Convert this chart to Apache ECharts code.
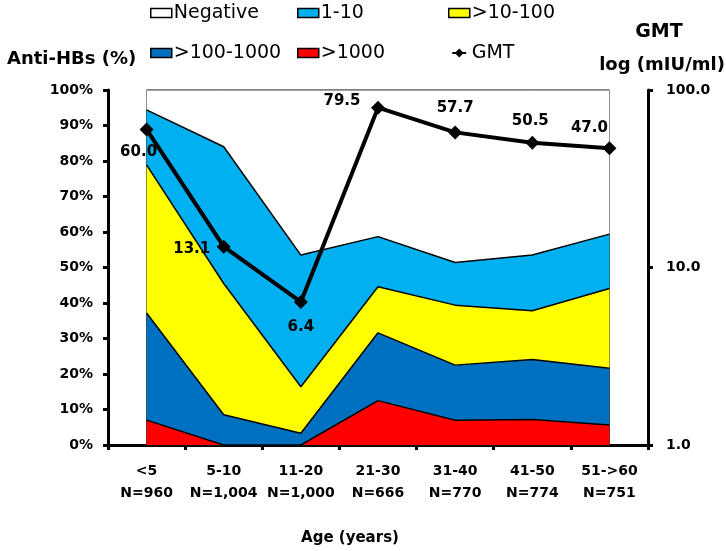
<!DOCTYPE html>
<html>
<head>
<meta charset="utf-8">
<script src="https://cdn.jsdelivr.net/npm/echarts@6/dist/echarts.min.js"></script>
<style>
  html, body { margin: 0; padding: 0; background: #fff; }
  #chart { width: 726px; height: 551px; }
</style>
</head>
<body>
<div id="chart"></div>
<script>
  // age groups + sample sizes
  var ageGroups = ['<5', '5-10', '11-20', '21-30', '31-40', '41-50', '51->60'];
  var sampleN = ['960', '1,004', '1,000', '666', '770', '774', '751'];

  // anti-HBs titer groups (% of subjects, stacked bottom -> top)
  var over1000 = [7.0, 0, 0, 12.5, 7.0, 7.2, 5.6];
  var from100to1000 = [30.2, 8.5, 3.3, 19.1, 15.5, 16.9, 16.0];
  var from10to100 = [41.7, 37.0, 13.1, 13.0, 16.9, 13.7, 22.5];
  var from1to10 = [15.5, 38.5, 37.1, 14.1, 12.0, 15.7, 15.3];
  var negative = [5.6, 16.0, 46.5, 41.3, 48.6, 46.5, 40.6];

  // geometric mean titer (mIU/ml)
  var gmt = [60.0, 13.1, 6.4, 79.5, 57.7, 50.5, 47.0];

  var leftTicks = [0, 100, 10];   // min, max, step
  var rightTicks = [1, 100];      // log axis range

  // where each GMT label sits relative to its point
  var gmtLabelOffsets = [[-8, 23], [-32, 2], [0, 25], [-36, -7], [0, -24], [-2, -22], [-20, -20]];

  var FONT = 'DejaVu Sans';
  // diamond on a short thick line, for the GMT legend entry
  var GMT_ICON = 'path://M0,5 L5,5 L10,0 L15,5 L20,5 L20,8 L15,8 L10,13 L5,8 L0,8 Z';
  var chart = echarts.init(document.getElementById('chart'));

  function areaSeries(name, data, fill) {
    return {
      name: name,
      type: 'line',
      stack: 'pct',
      data: data,
      symbol: 'none',
      itemStyle: { color: fill },
      lineStyle: { color: '#000', width: 1.5 },
      areaStyle: { color: fill, opacity: 1 },
      z: 2
    };
  }

  function legendItem(name, fill) {
    return { name: name, icon: 'rect', itemStyle: { color: fill, borderColor: '#000', borderWidth: 1.5 } };
  }

  var legendBase = {
    orient: 'vertical',
    top: 2,
    padding: 0,
    itemWidth: 21,
    itemHeight: 9,
    itemGap: 18,
    selectedMode: false,
    textStyle: { fontFamily: FONT, fontSize: 19, lineHeight: 22, color: '#000', padding: [0, 0, 0, -3] }
  };

  var negSeries = areaSeries('Negative', negative, '#ffffff');
  negSeries.lineStyle = { color: '#444', width: 1 };
  negSeries.markArea = {
    silent: true,
    itemStyle: { color: 'rgba(0,0,0,0)', borderColor: '#333', borderWidth: 1 },
    data: [[{ xAxis: ageGroups[0], yAxis: leftTicks[0] }, { xAxis: ageGroups[ageGroups.length - 1], yAxis: leftTicks[1] }]]
  };

  var option = {
    animation: false,
    backgroundColor: '#fff',
    grid: { left: 108, right: 78, top: 90, bottom: 106 },
    legend: [
      Object.assign({}, legendBase, { left: 150, data: [legendItem('Negative', '#ffffff'), legendItem('>100-1000', '#0070c0')] }),
      Object.assign({}, legendBase, { left: 297, data: [legendItem('1-10', '#00b0f0'), legendItem('>1000', '#ff0000')] }),
      Object.assign({}, legendBase, { left: 448, data: [legendItem('>10-100', '#ffff00'), { name: 'GMT', icon: GMT_ICON, itemStyle: { color: '#000', borderWidth: 0 } }] })
    ],
    graphic: [
      { type: 'text', x: 7, y: 59, style: { text: 'Anti-HBs (%)', font: 'bold 18px "' + FONT + '"', fill: '#000', verticalAlign: 'middle' } },
      { type: 'text', x: 659, y: 32, style: { text: 'GMT', font: 'bold 19px "' + FONT + '"', fill: '#000', align: 'center', verticalAlign: 'middle' } },
      { type: 'text', x: 662, y: 65, style: { text: 'log (mIU/ml)', font: 'bold 18px "' + FONT + '"', fill: '#000', align: 'center', verticalAlign: 'middle' } },
      { type: 'text', x: 350, y: 538, style: { text: 'Age (years)', font: 'bold 15px "' + FONT + '"', fill: '#000', align: 'center', verticalAlign: 'middle' } }
    ],
    xAxis: {
      type: 'category',
      data: ageGroups,
      boundaryGap: true,
      axisLine: { lineStyle: { color: '#000', width: 3 } },
      axisTick: { show: true, length: 5, lineStyle: { color: '#000', width: 3 } },
      axisLabel: {
        color: '#000', fontFamily: FONT, fontWeight: 'bold', fontSize: 14,
        lineHeight: 22, margin: 15, interval: 0,
        formatter: function (v, i) { return v + '\nN=' + sampleN[i]; }
      }
    },
    yAxis: [
      {
        type: 'value',
        min: leftTicks[0], max: leftTicks[1], interval: leftTicks[2],
        axisLine: { show: true, lineStyle: { color: '#000', width: 3 } },
        axisTick: { show: true, length: 5, lineStyle: { color: '#000', width: 3 } },
        splitLine: { show: false },
        axisLabel: { color: '#000', fontFamily: FONT, fontWeight: 'bold', fontSize: 14, margin: 15, formatter: '{value}%' }
      },
      {
        type: 'log',
        logBase: 10,
        min: rightTicks[0], max: rightTicks[1],
        position: 'right',
        axisLine: { show: true, lineStyle: { color: '#000', width: 3 } },
        axisTick: { show: true, length: 5, lineStyle: { color: '#000', width: 3 } },
        minorTick: { show: false },
        splitLine: { show: false },
        axisLabel: {
          color: '#000', fontFamily: FONT, fontWeight: 'bold', fontSize: 14, margin: 18,
          formatter: function (v) { return v.toFixed(1); }
        }
      }
    ],
    series: [
      areaSeries('>1000', over1000, '#ff0000'),
      areaSeries('>100-1000', from100to1000, '#0070c0'),
      areaSeries('>10-100', from10to100, '#ffff00'),
      areaSeries('1-10', from1to10, '#00b0f0'),
      negSeries,
      {
        name: 'GMT',
        type: 'line',
        yAxisIndex: 1,
        z: 5,
        symbol: 'diamond',
        symbolSize: 14,
        itemStyle: { color: '#000' },
        lineStyle: { color: '#000', width: 4 },
        data: gmt.map(function (v, i) {
          return {
            value: v,
            label: {
              show: true, position: 'inside', offset: gmtLabelOffsets[i],
              formatter: v.toFixed(1),
              color: '#000', fontFamily: FONT, fontWeight: 'bold', fontSize: 15
            }
          };
        })
      }
    ]
  };

  chart.setOption(option);
</script>
</body>
</html>
